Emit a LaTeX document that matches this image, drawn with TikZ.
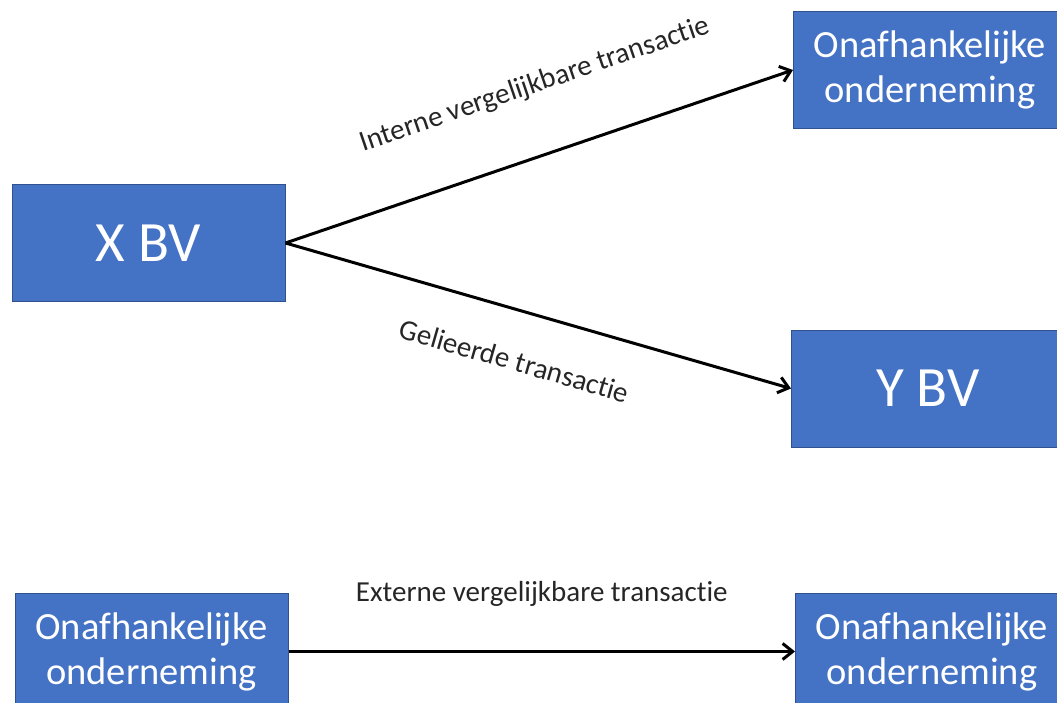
\documentclass[tikz,border=0pt]{standalone}
\usepackage{fontspec}
\setmainfont{Carlito}[Ligatures=NoCommon]
\usetikzlibrary{arrows.meta}
\definecolor{boxfill}{HTML}{4472C4}
\definecolor{boxline}{HTML}{2F528F}
\tikzset{
  entity/.style={draw=boxline, line width=1pt, fill=boxfill, text=white,
    minimum width=273pt, minimum height=117pt, inner sep=0pt, align=center},
  bigtext/.style={font=\fontsize{57}{68}\selectfont},
  midtext/.style={font=\fontsize{38.5}{45}\selectfont},
  flow/.style={line width=3pt, -{Straight Barb[length=10pt,width=16pt,line width=3pt]}},
  lbl/.style={font=\fontsize{29}{34}\selectfont, inner sep=0pt, text=black!85}
}
\begin{document}
\begin{tikzpicture}[x=1pt,y=-1pt]
\useasboundingbox (0,0) rectangle (1057,703);
\node[entity, bigtext] (x) at (148.5,243) {X BV};
\node[entity, midtext] (o1) at (930,70) {Onafhankelijke\\onderneming};
\node[entity, bigtext] (y) at (928,388.5) {Y BV};
\node[entity, midtext] (o2) at (151.5,651.5) {Onafhankelijke\\onderneming};
\node[entity, midtext] (o3) at (932,651.5) {Onafhankelijke\\onderneming};
\draw[flow] (x.east) -- (o1.west) node[lbl, pos=0.535, sloped, above=55pt] {Interne vergelijkbare transactie};
\draw[flow] (x.east) -- (y.west) node[lbl, pos=0.48, sloped, below=38pt] {Gelieerde transactie};
\draw[flow] (o2.east) -- (o3.west) node[lbl, midway, above=44pt] {Externe vergelijkbare transactie};
\end{tikzpicture}
\end{document}
